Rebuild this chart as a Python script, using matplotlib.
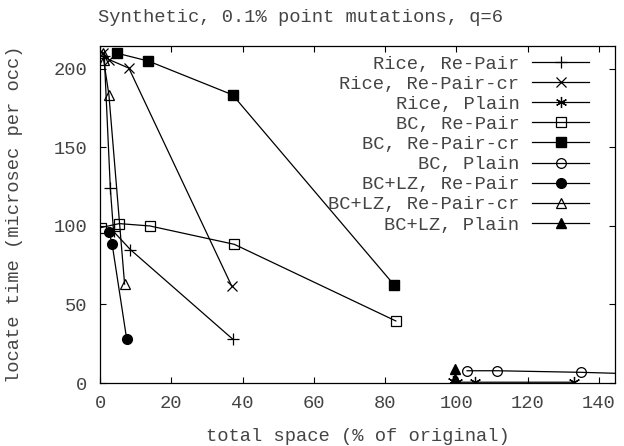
import matplotlib
matplotlib.use('Agg')
import matplotlib.pyplot as plt

plt.rcParams['font.family'] = ['Liberation Mono', 'DejaVu Sans Mono']
plt.rcParams['font.size'] = 13.5

title = 'Synthetic, 0.1% point mutations, q=6'
xlabel = 'total space (% of original)'
ylabel = 'locate time (microsec per occ)'

# data (x = total space %, y = microsec per occ)
rice_repair_x = [1.2, 2.9, 3.8, 8.5, 37.2]
rice_repair_y = [208, 124, 96.5, 85, 28]
rice_repaircr_x = [0.8, 2.5, 8.1, 36.9]
rice_repaircr_y = [210, 206, 200.5, 62]
rice_plain_x = [99.0, 100.2, 105.3, 133]
rice_plain_y = [1.5, 0.5, 0.5, 0.5]
bc_repair_x = [0.3, 5.4, 14.0, 37.7, 83]
bc_repair_y = [99, 101.5, 100, 88.3, 39.5]
bc_repaircr_x = [4.8, 13.6, 37.2, 82.5]
bc_repaircr_y = [210, 205, 183.5, 62.5]
bc_plain_x = [103, 111.4, 135, 175]
bc_plain_y = [7.8, 7.8, 6.8, 4.2]
bclz_repair_x = [2.5, 3.4, 7.5]
bclz_repair_y = [96.4, 88.5, 27.8]
bclz_repaircr_x = [0.8, 1.0, 2.5, 6.9]
bclz_repaircr_y = [210, 206, 183.5, 63]
bclz_plain_x = [99.5, 99.7, 99.9]
bclz_plain_y = [8.7, 2.5, 1.0]

txt = '#444444'

fig = plt.figure(figsize=(6.24, 4.46), dpi=100)
ax = fig.add_axes([100/624, 1 - 383/446, 515/624, 337/446])

lw = 0.9
ax.plot(rice_repair_x, rice_repair_y, color='black', lw=lw, marker='+', ms=8, mew=0.9, label='Rice, Re-Pair')
ax.plot(rice_repaircr_x, rice_repaircr_y, color='black', lw=lw, marker='x', ms=7, mew=0.9, label='Rice, Re-Pair-cr')
ax.plot(rice_plain_x, rice_plain_y, color='black', lw=lw, marker=(6, 2, 0), ms=8, mew=0.9, label='Rice, Plain')
ax.plot(bc_repair_x, bc_repair_y, color='black', lw=lw, marker='s', ms=7, mew=0.9, mfc='none', label='BC, Re-Pair')
ax.plot(bc_repaircr_x, bc_repaircr_y, color='black', lw=lw, marker='s', ms=6.5, label='BC, Re-Pair-cr')
ax.plot(bc_plain_x, bc_plain_y, color='black', lw=lw, marker='o', ms=7, mew=0.9, mfc='none', label='BC, Plain')
ax.plot(bclz_repair_x, bclz_repair_y, color='black', lw=lw, marker='o', ms=7, label='BC+LZ, Re-Pair')
ax.plot(bclz_repaircr_x, bclz_repaircr_y, color='black', lw=lw, marker='^', ms=7, mew=0.9, mfc='none', label='BC+LZ, Re-Pair-cr')
ax.plot(bclz_plain_x, bclz_plain_y, color='black', lw=lw, marker='^', ms=7, label='BC+LZ, Plain')

ax.set_xlim(0, 144.5)
ax.set_ylim(0, 214.6)
ax.set_xticks(range(0, 141, 20))
ax.set_yticks(range(0, 201, 50))
ax.tick_params(direction='in', length=4, width=0.8, top=True, right=True,
               labelcolor=txt, pad=9)
for s in ax.spines.values():
    s.set_linewidth(0.9)

ax.set_xlabel(xlabel, color=txt, labelpad=11)
ax.set_ylabel(ylabel, color=txt, labelpad=22)
fig.text(300/624, 1 - 17/446, title, ha='center', va='center', color=txt)

leg = ax.legend(loc='upper right', bbox_to_anchor=(1 - 17/515, 1),
                markerfirst=False, frameon=False,
                handlelength=3.0, handletextpad=0.7, labelspacing=0.16,
                borderaxespad=0.3, borderpad=0.2)
for t in leg.get_texts():
    t.set_color(txt)

fig.savefig('out.png', dpi=100)
